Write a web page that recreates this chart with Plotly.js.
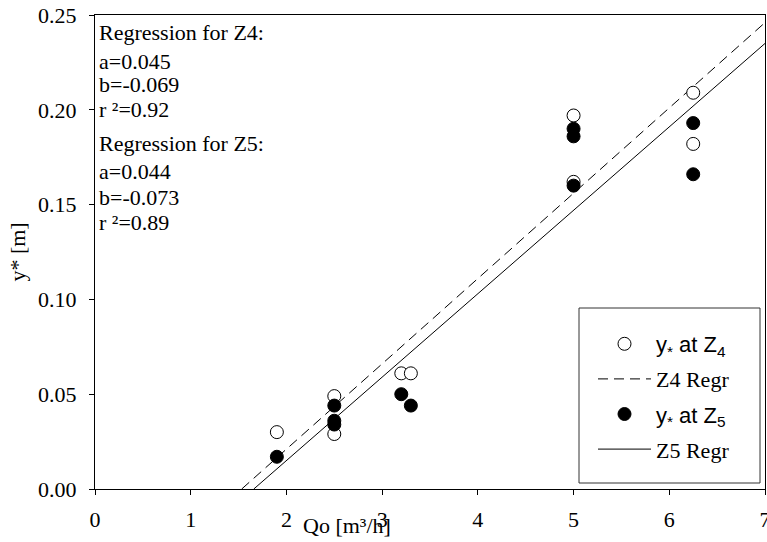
<!DOCTYPE html>
<html>
<head>
<meta charset="utf-8">
<script src="https://cdn.plot.ly/plotly-3.0.1.min.js"></script>
<style>html,body{margin:0;padding:0;background:#fff;}</style>
</head>
<body>
<div id="chart" style="width:767px;height:542px;"></div>
<script>
// Data
const z4X = [1.9, 2.5, 2.5, 3.2, 3.3, 5, 5, 6.25, 6.25];
const z4Y = [0.030, 0.049, 0.029, 0.061, 0.061, 0.197, 0.162, 0.209, 0.182];
const z5X = [1.9, 2.5, 2.5, 2.5, 3.2, 3.3, 5, 5, 5, 6.25, 6.25];
const z5Y = [0.017, 0.044, 0.036, 0.034, 0.050, 0.044, 0.190, 0.186, 0.160, 0.193, 0.166];
const reg4X = [1.533, 7];
const reg4Y = [0, 0.246];
const reg5X = [1.659, 7];
const reg5Y = [0, 0.235];
const xTicks = [0, 1, 2, 3, 4, 5, 6, 7];
const yTicks = [0, 0.05, 0.10, 0.15, 0.20, 0.25];
const noteLines = ["Regression for Z4:", "a=0.045", "b=-0.069", "r \u00b2=0.92",
                   "Regression for Z5:", "a=0.044", "b=-0.073", "r \u00b2=0.89"];
const noteY = [32, 61, 85, 109, 143, 172, 197, 222];

const SERIF = "Liberation Serif";

const traces = [
  {x: reg4X, y: reg4Y, mode: 'lines', name: 'Z4 Regr', legendrank: 2, legendgroup: 'b',
   line: {color: '#000', width: 1, dash: '10px,6px'}},
  {x: reg5X, y: reg5Y, mode: 'lines', name: 'Z5 Regr', legendrank: 4, legendgroup: 'd',
   line: {color: '#000', width: 1}},
  {x: z4X, y: z4Y, mode: 'markers', legendrank: 1, legendgroup: 'a',
   name: '<span style="font-family:Liberation Sans">y<sub>*</sub> at Z<sub>4</sub></span>',
   marker: {symbol: 'circle', size: 13, color: '#fff', line: {color: '#000', width: 1}}},
  {x: z5X, y: z5Y, mode: 'markers', legendrank: 3, legendgroup: 'c',
   name: '<span style="font-family:Liberation Sans">y<sub>*</sub> at Z<sub>5</sub></span>',
   marker: {symbol: 'circle', size: 13, color: '#000', line: {color: '#000', width: 1}}}
];

const plotTop = 15, plotBottom = 489, plotH = plotBottom - plotTop;
const annotations = noteLines.map((t, i) => ({
  text: t, xref: 'paper', yref: 'paper', x: 0, xanchor: 'left', xshift: 2,
  y: (plotBottom - noteY[i]) / plotH, yanchor: 'middle', showarrow: false,
  font: {family: SERIF, size: 22, color: '#000'}
}));
annotations.push({
  text: 'Qo [m\u00b3/h]', xref: 'paper', yref: 'paper', x: (347 - 95) / 670, y: -(525 - plotBottom) / plotH,
  xanchor: 'center', yanchor: 'middle', showarrow: false,
  font: {family: SERIF, size: 22, color: '#000'}
});

const layout = {
  width: 767, height: 542,
  margin: {l: 95, r: 2, t: 15, b: 53},
  paper_bgcolor: '#fff', plot_bgcolor: '#fff',
  font: {family: SERIF, size: 22, color: '#000'},
  showlegend: true,
  legend: {x: (593 - 95) / 670, y: (plotBottom - 323) / plotH, xanchor: 'left', yanchor: 'top',
           bgcolor: 'rgba(0,0,0,0)', borderwidth: 0, tracegroupgap: 3.5, itemwidth: 53,
           font: {family: SERIF, size: 22, color: '#000'}},
  xaxis: {range: [0, 7], tickvals: xTicks, ticktext: xTicks.map(String),
          showgrid: false, zeroline: false, showline: true, mirror: true, linecolor: '#000', linewidth: 1,
          ticks: 'outside', ticklen: 5, tickcolor: '#000', ticklabelstandoff: 6, ticklabeloverflow: 'allow',
          tickfont: {family: SERIF, size: 22, color: '#000'}},
  yaxis: {range: [0, 0.25], tickvals: yTicks, ticktext: yTicks.map(v => v.toFixed(2)),
          showgrid: false, zeroline: false, showline: true, mirror: true, linecolor: '#000', linewidth: 1,
          ticks: 'outside', ticklen: 5, tickcolor: '#000', ticklabelstandoff: 8,
          tickfont: {family: SERIF, size: 22, color: '#000'},
          title: {text: 'y* [m]', font: {family: SERIF, size: 22, color: '#000'}, standoff: 6}},
  shapes: [{type: 'rect', xref: 'paper', yref: 'paper',
            x0: (579 - 95) / 670, x1: (760 - 95) / 670,
            y0: (plotBottom - 483) / plotH, y1: (plotBottom - 308) / plotH,
            line: {color: '#333', width: 1}, fillcolor: 'rgba(0,0,0,0)'}],
  annotations: annotations
};

Plotly.newPlot('chart', traces, layout, {displayModeBar: false, staticPlot: true});
</script>
</body>
</html>
